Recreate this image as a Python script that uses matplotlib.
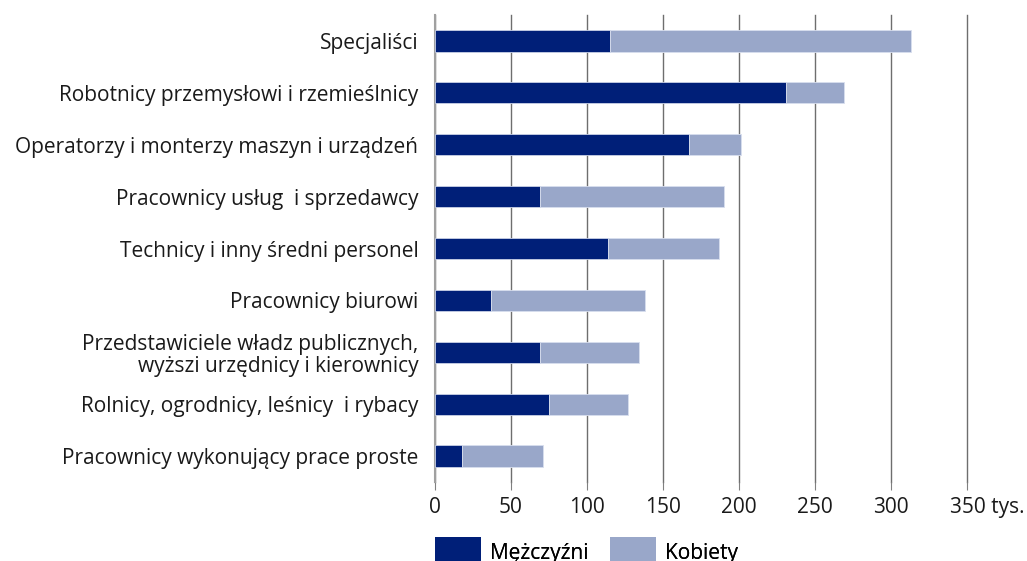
import matplotlib
matplotlib.use("Agg")
import matplotlib.pyplot as plt
from matplotlib.patches import Patch
from matplotlib.transforms import ScaledTranslation

categories = [
    "Specjaliści",
    "Robotnicy przemysłowi i rzemieślnicy",
    "Operatorzy i monterzy maszyn i urządzeń",
    "Pracownicy usług  i sprzedawcy",
    "Technicy i inny średni personel",
    "Pracownicy biurowi",
    "Przedstawiciele władz publicznych,\nwyższi urzędnicy i kierownicy",
    "Rolnicy, ogrodnicy, leśnicy  i rybacy",
    "Pracownicy wykonujący prace proste",
]
men = [115, 231, 167, 69, 114, 37, 69, 75, 18]
women = [198, 38, 34, 121, 73, 101, 65, 52, 53]
xticks = [0, 50, 100, 150, 200, 250, 300, 350]
xtick_labels = ["0", "50", "100", "150", "200", "250", "300", "350 tys."]
series_names = ["Mężczyźni", "Kobiety"]

c_men = "#001F78"
c_women = "#99A7C9"
FS = 15

plt.rcParams['font.family'] = ['Open Sans', 'DejaVu Sans']

fig = plt.figure(figsize=(10.27, 5.61), dpi=100)
ax = fig.add_axes([435/1027, 1-482/561, 532/1027, 467/561])

y = list(range(len(categories)))
ax.barh(y, men, height=0.41, color=c_men, edgecolor="#C8D0E6", linewidth=0.6, zorder=3)
ax.barh(y, women, left=men, height=0.41, color=c_women, edgecolor="#D8DEEE", linewidth=0.6, zorder=3)

ax.set_ylim(len(categories)-0.5, -0.5)
ax.set_xlim(0, 350)
ax.set_yticks(y)
ax.set_yticklabels(categories, fontsize=FS, color="#1a1a1a", linespacing=1.1)
ax.set_xticks(xticks)
ax.set_xticklabels(xtick_labels, fontsize=FS, color="#1a1a1a")
ax.tick_params(axis='y', length=0, pad=12)
ax.tick_params(axis='x', length=6, color="#808080", pad=5, direction='out')
ax.grid(axis='x', color="#6E6E6E", linewidth=1.0, zorder=0)
for gl in ax.get_xgridlines():
    gl.set_clip_on(False)
for s in ['top', 'right', 'bottom']:
    ax.spines[s].set_visible(False)
ax.spines['left'].set_color("#A0A0A0")
ax.spines['left'].set_linewidth(1.5)

last = ax.get_xticklabels()[-1]
last.set_horizontalalignment('left')
last.set_transform(last.get_transform() + ScaledTranslation(-0.175, 0, fig.dpi_scale_trans))

handles = [Patch(facecolor=c_men), Patch(facecolor=c_women)]
lx = [435, 610]
for h, name, x0 in zip(handles, series_names, lx):
    leg = fig.legend([h], [name], loc='upper left', bbox_to_anchor=(x0/1027, 1-537/561),
                     frameon=False, fontsize=FS, handlelength=2.2, handleheight=1.9,
                     handletextpad=0.45, borderaxespad=0, borderpad=0)
    fig.add_artist(leg)

fig.savefig("out.png", dpi=100)
